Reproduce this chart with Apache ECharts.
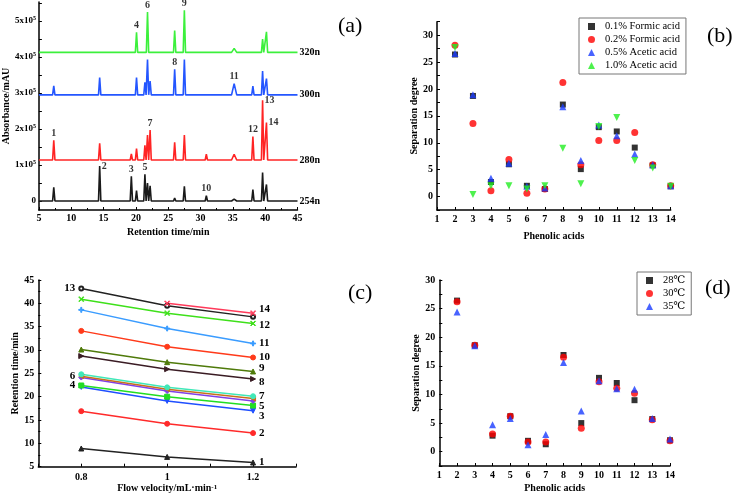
<!DOCTYPE html>
<html>
<head>
<meta charset="utf-8">
<script src="https://cdn.jsdelivr.net/npm/echarts@6/dist/echarts.min.js"></script>
<style>
html, body { margin: 0; padding: 0; background: #fff; }
#chart { width: 734px; height: 498px; }
</style>
</head>
<body>
<div id="chart"></div>
<script>
var SERIF = '"Liberation Serif", "DejaVu Serif", serif';

// (a) chromatograms, absorbance in units of 1x10^5 mAU
var peakLabels = ['1', '2', '3', '4', '5', '6', '7', '8', '9', '10', '11', '12', '13', '14'];
var peakTimes = [7.3, 14.4, 19.3, 20.1, 21.4, 21.8, 22.2, 26.0, 27.5, 30.9, 35.2, 38.1, 39.6, 40.2];
var traceNames = ['254n', '280n', '300n', '320n'];
var traceBase = [0, 1.14, 2.95, 4.13];
var apex254 = [0.38, 0.97, 0.69, 0.29, 0.74, 0.50, 0.42, 0.08, 0.41, 0.15, 0.05, 0.32, 0.79, 0.46];
var apex280 = [1.69, 1.60, 1.31, 1.46, 1.55, 1.83, 1.97, 1.63, 1.83, 1.30, 1.30, 1.79, 2.80, 2.18];
var apex300 = [3.20, 3.43, null, 3.43, 3.30, 3.93, 3.33, 3.66, 3.93, null, 3.26, 3.19, 3.61, 3.40];
var apex320 = [4.15, 4.15, null, 4.69, null, 5.25, null, 4.74, 5.30, null, 4.24, null, 4.50, 4.70];
var peakLabelTrace = ['280n', '254n', '254n', '320n', '254n', '320n', '280n', '300n', '320n', '254n', '300n', '280n', '280n', '280n'];

// (b) separation degree vs mobile phase
var acids = [2, 3, 4, 5, 6, 7, 8, 9, 10, 11, 12, 13, 14];
var formic01 = [26.4, 18.7, 2.7, 6.0, 2.0, 1.4, 17.1, 5.1, 12.9, 12.1, 9.1, 5.8, 1.9];
var formic02 = [28.1, 13.6, 1.1, 6.9, 0.6, 1.4, 21.2, 5.9, 10.4, 10.4, 11.9, 5.9, 2.0];
var acetic05 = [26.6, 18.9, 3.4, 6.2, 1.9, 1.6, 16.7, 6.7, 13.3, 11.3, 7.9, 5.9, 2.0];
var acetic10 = [27.7, 0.4, 2.0, 2.0, 1.4, 2.0, 9.0, 2.4, 13.0, 14.7, 6.7, 5.3, 1.9];

// (c) retention time vs flow velocity
var flowRates = [0.8, 1.0, 1.2];
var rt1 = [8.9, 7.1, 5.9];
var rt2 = [16.9, 14.2, 12.2];
var rt3 = [22.1, 19.1, 17.0];
var rt4 = [22.4, 20.0, 18.1];
var rt5 = [24.1, 21.2, 19.1];
var rt6 = [24.4, 21.6, 19.6];
var rt7 = [24.8, 22.0, 20.1];
var rt8 = [28.7, 25.9, 23.8];
var rt9 = [30.1, 27.4, 25.4];
var rt10 = [34.1, 30.7, 28.4];
var rt11 = [38.6, 34.6, 31.4];
var rt12 = [40.9, 37.9, 35.7];
var rt13 = [43.2, 39.5, 37.1];
var rt14 = [null, 40.0, 37.9];

// (d) separation degree vs column temperature
var temp28 = [26.4, 18.6, 2.8, 6.2, 1.9, 1.3, 16.9, 5.0, 12.9, 12.0, 9.0, 5.7, 2.0];
var temp30 = [26.2, 18.6, 3.1, 6.2, 1.7, 1.7, 16.5, 4.1, 12.2, 11.1, 10.2, 5.6, 1.9];
var temp35 = [24.4, 18.5, 4.7, 5.8, 1.2, 3.0, 15.6, 7.1, 12.4, 11.0, 10.9, 5.8, 2.2];

var traceApex = [apex254, apex280, apex300, apex320];
var traceColors = ['#1a1a1a', '#ff2424', '#2456ff', '#3cf03c'];
var rtSeries = [rt1, rt2, rt3, rt4, rt5, rt6, rt7, rt8, rt9, rt10, rt11, rt12, rt13, rt14];
var rtColors = ['#222222', '#ff2a2a', '#1f4fff', '#22dd22', '#8040e8', '#c8701a', '#40e8b8',
    '#3a1c24', '#4f7a0a', '#ff3a1a', '#3a9cff', '#3ee01a', '#222222', '#ff3a5a'];
var PLUS = 'path://M4,0H6V4H10V6H6V10H4V6H0V4H4Z';
var CROSS = 'path://M1,0L5,4L9,0L10,1L6,5L10,9L9,10L5,6L1,10L0,9L4,5L0,1Z';
var rtSymbols = ['triangle', 'circle', 'triangle', 'rect', 'diamond', 'triangle', 'circle',
    'triangle', 'triangle', 'circle', PLUS, CROSS, 'emptyCircle', CROSS];
var rtSymbolSize = [5, 5, 5, 5, 5, 5, 5, 5, 5, 5, 5, 5, 4, 5];
var rtRotate = [0, 0, 180, 0, 0, 90, 0, -90, 0, 0, 0, 0, 0, 0];
var rtLeftLabel = ['4', '6', '13'];
var rtNoRightLabel = ['4', '6', '13'];
var rtLabelOffset = { '3': [0, 5], '5': [0, 5], '8': [0, 3], '9': [0, -3], '14': [0, -4], '12': [0, 2] };

var boldText = { fontFamily: SERIF, fontWeight: 'bold', fontSize: 10, color: '#000' };

function axisLine() {
    return { show: true, onZero: false, lineStyle: { color: '#000', width: 1.5 } };
}
function axisTick(extra) {
    var t = { show: true, inside: true, length: 3, lineStyle: { color: '#000', width: 1 } };
    for (var k in extra) t[k] = extra[k];
    return t;
}
function axisLabel(extra) {
    var l = { color: '#000', fontFamily: SERIF, fontWeight: 'bold', fontSize: 10, margin: 4 };
    for (var k in extra) l[k] = extra[k];
    return l;
}

function buildTrace(base, apex) {
    var pts = [[5, base]];
    apex.forEach(function (h, i) {
        if (h === null) return;
        var w = i === 10 ? 0.4 : 0.18;
        var t = peakTimes[i];
        pts.push([t - w, base], [t, h], [t + w, base]);
    });
    pts.push([45, base]);
    return pts;
}

var series = [];

traceNames.forEach(function (name, k) {
    series.push({
        name: name, type: 'line', xAxisIndex: 0, yAxisIndex: 0,
        data: buildTrace(traceBase[k], traceApex[k]),
        showSymbol: false, symbol: 'none',
        lineStyle: { color: traceColors[k], width: 1.6 },
        endLabel: { show: true, formatter: name, distance: 2, fontFamily: SERIF, fontWeight: 'bold', fontSize: 10, color: '#000' }
    });
});

series.push({
    type: 'scatter', xAxisIndex: 0, yAxisIndex: 0, symbolSize: 0, silent: true,
    data: peakLabels.map(function (lab, i) {
        var k = traceNames.indexOf(peakLabelTrace[i]);
        var pos = (lab === '2' || lab === '13' || lab === '14') ? 'right' : 'top';
        return {
            value: [peakTimes[i], traceApex[k][i]],
            label: { show: true, position: pos, distance: 2, formatter: lab, fontFamily: SERIF, fontWeight: 'bold', fontSize: 10, color: '#000' }
        };
    })
});

function scatterSeries(name, values, symbol, color, size, rotate, gi) {
    return {
        name: name, type: 'scatter', xAxisIndex: gi, yAxisIndex: gi,
        data: acids.map(function (a, i) { return [a, values[i]]; }),
        symbol: symbol, symbolSize: size, symbolRotate: rotate,
        itemStyle: { color: color }
    };
}

series.push(scatterSeries('0.1% Formic acid', formic01, 'rect', '#000', 6, 0, 1));
series.push(scatterSeries('0.2% Formic acid', formic02, 'circle', '#ff0000', 7, 0, 1));
series.push(scatterSeries('0.5% Acetic acid', acetic05, 'triangle', '#1a3cff', 7, 0, 1));
series.push(scatterSeries('1.0% Acetic acid', acetic10, 'triangle', '#22ee22', 7, 180, 1));

rtSeries.forEach(function (vals, k) {
    var name = String(k + 1);
    var data = [];
    vals.forEach(function (v, i) {
        if (v === null) return;
        var item = { value: [flowRates[i], v] };
        if (data.length === 0 && rtLeftLabel.indexOf(name) >= 0) {
            item.label = { show: true, position: 'left', distance: 3, formatter: name, fontFamily: SERIF, fontWeight: 'bold', fontSize: 11, color: '#000' };
        }
        data.push(item);
    });
    series.push({
        name: name, type: 'line', xAxisIndex: 2, yAxisIndex: 2, data: data,
        symbol: rtSymbols[k], symbolSize: rtSymbolSize[k], symbolRotate: rtRotate[k], showSymbol: true,
        lineStyle: { color: rtColors[k], width: 1.5 },
        itemStyle: { color: rtColors[k], borderColor: rtColors[k] },
        endLabel: {
            show: rtNoRightLabel.indexOf(name) < 0, formatter: name, distance: 6,
            offset: rtLabelOffset[name] || [0, 0],
            fontFamily: SERIF, fontWeight: 'bold', fontSize: 11, color: '#000'
        }
    });
});

series.push(scatterSeries('28\u2103', temp28, 'rect', '#000', 6, 0, 3));
series.push(scatterSeries('30\u2103', temp30, 'circle', '#ff0000', 7, 0, 3));
series.push(scatterSeries('35\u2103', temp35, 'triangle', '#1a3cff', 7, 0, 3));

function panelTitle(text, left, top) {
    return { text: text, left: left, top: top, textStyle: { fontFamily: SERIF, fontSize: 22, fontWeight: 'normal', color: '#000' } };
}

function legendBox(names, left, top) {
    return {
        data: names, left: left, top: top, orient: 'vertical',
        itemWidth: 7, itemHeight: 7, itemGap: 2, padding: [3, 6, 3, 9],
        borderColor: '#777', borderWidth: 1, backgroundColor: '#fff',
        textStyle: { fontFamily: SERIF, fontSize: 10.5, color: '#000', lineHeight: 10, padding: [0, 0, 0, 5] }
    };
}

var option = {
    animation: false,
    backgroundColor: '#fff',
    title: [
        panelTitle('(a)', 333, 10),
        panelTitle('(b)', 702, 20),
        panelTitle('(c)', 343, 277),
        panelTitle('(d)', 700, 272)
    ],
    legend: [
        legendBox(['0.1% Formic acid', '0.2% Formic acid', '0.5% Acetic acid', '1.0% Acetic acid'], 579, 18),
        legendBox(['28\u2103', '30\u2103', '35\u2103'], 637, 272)
    ],
    grid: [
        { left: 37.5, top: 2, width: 260, height: 208 },
        { left: 437, top: 21.7, width: 233.7, height: 188.3 },
        { left: 38.3, top: 280, width: 257.7, height: 186.7 },
        { left: 439.3, top: 280, width: 230.7, height: 186 }
    ],
    xAxis: [
        {
            type: 'value', gridIndex: 0, min: 5, max: 45, interval: 5,
            axisLine: axisLine(), axisTick: axisTick(), minorTick: { show: true, splitNumber: 2, length: 2 },
            axisLabel: axisLabel({ margin: 3 }), splitLine: { show: false },
            name: 'Retention time/min', nameLocation: 'middle', nameGap: 17, nameTextStyle: boldText
        },
        {
            type: 'value', gridIndex: 1, min: 1, max: 14, interval: 1,
            axisLine: axisLine(), axisTick: axisTick(), axisLabel: axisLabel({ margin: 4 }), splitLine: { show: false },
            name: 'Phenolic acids', nameLocation: 'middle', nameGap: 21, nameTextStyle: boldText
        },
        {
            type: 'value', gridIndex: 2, min: 0.7, max: 1.3, interval: 0.1,
            axisLine: axisLine(), axisTick: axisTick(),
            axisLabel: axisLabel({
                margin: 6, interval: 0,
                formatter: function (v) {
                    var r = Math.round(v * 10);
                    return r === 8 ? '0.8' : r === 10 ? '1' : r === 12 ? '1.2' : '';
                }
            }),
            splitLine: { show: false },
            name: 'Flow velocity/mL\u00b7min{s|-1}', nameLocation: 'middle', nameGap: 17,
            nameTextStyle: {
                fontFamily: SERIF, fontWeight: 'bold', fontSize: 10, color: '#000',
                rich: { s: { fontFamily: SERIF, fontWeight: 'bold', fontSize: 7, color: '#000', verticalAlign: 'top', lineHeight: 8 } }
            }
        },
        {
            type: 'value', gridIndex: 3, min: 1, max: 14, interval: 1,
            axisLine: axisLine(), axisTick: axisTick(), axisLabel: axisLabel({ margin: 4 }), splitLine: { show: false },
            name: 'Phenolic acids', nameLocation: 'middle', nameGap: 17, nameTextStyle: boldText
        }
    ],
    yAxis: [
        {
            type: 'value', gridIndex: 0, min: -0.25, max: 5.53,
            axisLine: axisLine(),
            axisTick: axisTick({ customValues: [0, 0.5, 1, 1.5, 2, 2.5, 3, 3.5, 4, 4.5, 5, 5.5] }),
            axisLabel: axisLabel({
                customValues: [0, 1, 2, 3, 4, 5], fontSize: 9, margin: 3,
                formatter: function (v) { return v === 0 ? '0' : '{n|' + v + 'x10}{s|5}'; },
                rich: {
                    n: { fontFamily: SERIF, fontWeight: 'bold', fontSize: 9, color: '#000', lineHeight: 12 },
                    s: { fontFamily: SERIF, fontWeight: 'bold', fontSize: 6, color: '#000', verticalAlign: 'top', lineHeight: 6 }
                }
            }),
            splitLine: { show: false },
            name: 'Absorbance/mAU', nameLocation: 'middle', nameGap: 26, nameTextStyle: boldText
        },
        {
            type: 'value', gridIndex: 1, min: -2.5, max: 32.5, interval: 2.5,
            axisLine: axisLine(), axisTick: axisTick(),
            axisLabel: axisLabel({ formatter: function (v) { return (v >= 0 && v % 5 === 0) ? String(v) : ''; } }),
            splitLine: { show: false },
            name: 'Separation degree', nameLocation: 'middle', nameGap: 17, nameTextStyle: boldText
        },
        {
            type: 'value', gridIndex: 2, min: 5, max: 45, interval: 5,
            axisLine: axisLine(), axisTick: axisTick(), minorTick: { show: true, splitNumber: 2, length: 2 },
            axisLabel: axisLabel(), splitLine: { show: false },
            name: 'Retention time/min', nameLocation: 'middle', nameGap: 18, nameTextStyle: boldText
        },
        {
            type: 'value', gridIndex: 3, min: -2.5, max: 30, interval: 2.5,
            axisLine: axisLine(), axisTick: axisTick(),
            axisLabel: axisLabel({ formatter: function (v) { return (v >= 0 && v % 5 === 0) ? String(v) : ''; } }),
            splitLine: { show: false },
            name: 'Separation degree', nameLocation: 'middle', nameGap: 17, nameTextStyle: boldText
        }
    ],
    series: series
};

var chart = echarts.init(document.getElementById('chart'));
chart.setOption(option);
</script>
</body>
</html>
